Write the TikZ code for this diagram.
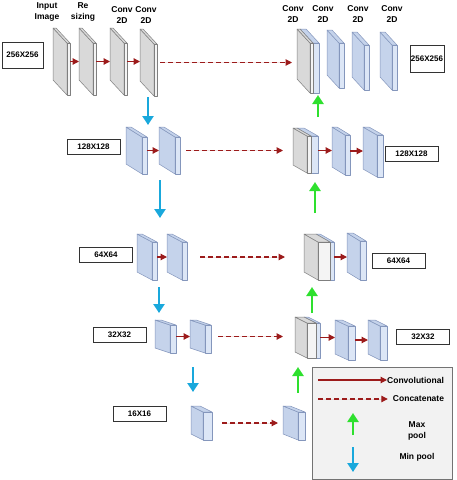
\documentclass[tikz,border=0pt]{standalone}
\usepackage{fontspec}
\setmainfont{Liberation Sans}
\usepackage{tikz}
\usetikzlibrary{arrows.meta,calc,positioning}
\definecolor{slabedge}{HTML}{7F7F7F}
\definecolor{grayside}{HTML}{D9D9D9}
\definecolor{grayfront}{HTML}{F4F4F4}
\definecolor{blueedge}{HTML}{8496BC}
\definecolor{blueside}{HTML}{C5D3EB}
\definecolor{bluefront}{HTML}{DCE6F6}
\definecolor{convred}{HTML}{9C1B1B}
\definecolor{poolblue}{HTML}{19A8DC}
\definecolor{poolgreen}{HTML}{2EE02E}

\begin{document}
\begin{tikzpicture}[
  x=1pt,y=-1pt,
  grayslab/.style={slabside/.style={draw=slabedge,fill=grayside,line width=0.5pt,line join=round},
    slabfront/.style={draw=slabedge,fill=grayfront,line width=0.5pt,line join=round}},
  blueslab/.style={slabside/.style={draw=blueedge,fill=blueside,line width=0.5pt,line join=round},
    slabfront/.style={draw=blueedge,fill=bluefront,line width=0.5pt,line join=round}},
  pics/slab/.style n args={4}{code={
    \path[slabside] (0,0) -- (#1,#2) -- (#1,#2+#3) -- (0,#3) -- cycle;
    \path[slabside] (0,0) -- (#4,0) -- (#1+#4,#2) -- (#1,#2) -- cycle;
    \path[slabfront] (#1,#2) rectangle (#1+#4,#2+#3);
    \coordinate (-w) at (0,{(#2+#3)/2});
    \coordinate (-e) at (#1+#4,{(#2+#3)/2});
  }},
  convarrow/.style={-{Triangle[length=6.5pt,width=6.5pt]},draw=convred,fill=convred,line width=1.2pt},
  catarrow/.style={-{Triangle[length=6.5pt,width=6.5pt]},draw=convred,fill=convred,line width=1.1pt,dash pattern=on 4.5pt off 3.5pt},
  minpool/.style={-{Triangle[length=9pt,width=11pt]},draw=poolblue,line width=2.8pt},
  maxpool/.style={-{Triangle[length=9pt,width=11pt]},draw=poolgreen,line width=2.8pt},
  sizebox/.style={draw=black!80,line width=0.7pt,fill=white,minimum width=53pt,minimum height=15pt,inner sep=1pt,font=\fontsize{8}{9}\selectfont\bfseries},
  lbl/.style={align=center,inner sep=0pt,font=\fontsize{8.5}{11}\selectfont\bfseries},
  legtext/.style={align=center,inner sep=0pt,font=\fontsize{8.5}{11}\selectfont\bfseries}
]
\useasboundingbox (0,0) rectangle (456,480);

% encoder
\pic[grayslab] (r1a) at (53,28) {slab={14}{15}{52}{3}};
\pic[grayslab] (r1b) at (79,28) {slab={14}{15}{52}{3}};
\pic[grayslab] (r1c) at (110,28) {slab={14}{15}{52}{3}};
\pic[grayslab] (r1d) at (140,29) {slab={14}{15}{52}{3}};
\pic[blueslab] (r2a) at (126,127) {slab={16}{10}{37}{5}};
\pic[blueslab] (r2b) at (159,127) {slab={16}{10}{37}{5}};
\pic[blueslab] (r3a) at (137,234) {slab={15}{8}{38}{5}};
\pic[blueslab] (r3b) at (167,234) {slab={15}{8}{38}{5}};
\pic[blueslab] (r4a) at (155,320) {slab={15}{5}{28}{6}};
\pic[blueslab] (r4b) at (190,320) {slab={15}{5}{28}{6}};
\pic[blueslab] (r5) at (191,406) {slab={12}{6}{28}{9}};

% decoder
\pic[blueslab] (c1b) at (300,29) {slab={13}{14}{50}{6}};
\pic[grayslab] (c1) at (297,29) {slab={13}{14}{50}{3}};
\pic[blueslab] (d1a) at (327,30) {slab={12}{13}{45}{5}};
\pic[blueslab] (d1b) at (352,32) {slab={12}{13}{45}{5}};
\pic[blueslab] (d1c) at (380,32) {slab={12}{13}{45}{5}};
\pic[blueslab] (c2b) at (297,128) {slab={14}{8}{37}{7}};
\pic[grayslab] (c2) at (293,128) {slab={14}{8}{37}{4}};
\pic[blueslab] (d2a) at (332,127) {slab={13}{8}{40}{5}};
\pic[blueslab] (d2b) at (363,127) {slab={14}{8}{42}{6}};
\pic[blueslab] (c3b) at (316,234) {slab={14}{8}{38}{4}};
\pic[grayslab] (c3) at (304,234) {slab={14}{8}{38}{12}};
\pic[blueslab] (d3a) at (347,233) {slab={13}{8}{39}{6}};
\pic[blueslab] (c4b) at (304,317) {slab={12}{6}{35}{4}};
\pic[grayslab] (c4) at (295,317) {slab={12}{6}{35}{9}};
\pic[blueslab] (d4a) at (335,320) {slab={13}{6}{34}{7}};
\pic[blueslab] (d4b) at (368,320) {slab={12}{6}{34}{7}};
\pic[blueslab] (d5) at (283,406) {slab={15}{6}{28}{7}};

% column titles
\node[lbl] (tin) at (47,12) {Input\\Image};
\node[lbl] (trs) at (83,12) {Re\\sizing};
\node[lbl] (tc1) at (122,15) {Conv\\2D};
\node[lbl] (tc2) at (146,15) {Conv\\2D};
\node[lbl] (tc3) at (293,14) {Conv\\2D};
\node[lbl] (tc4) at (323,14) {Conv\\2D};
\node[lbl] (tc5) at (358,14) {Conv\\2D};
\node[lbl] (tc6) at (392,14) {Conv\\2D};

% sizes
\node[sizebox,minimum width=41pt,minimum height=26pt] (s1) at (22.5,55) {256X256};
\node[sizebox] (s2) at (93.5,146.5) {128X128};
\node[sizebox] (s3) at (106,255) {64X64};
\node[sizebox] (s4) at (119.5,334.5) {32X32};
\node[sizebox] (s5) at (139.5,414) {16X16};
\node[sizebox,minimum width=34pt,minimum height=27pt] (t1) at (427,58.5) {256X256};
\node[sizebox] (t2) at (411.5,153.5) {128X128};
\node[sizebox] (t3) at (398.5,261) {64X64};
\node[sizebox] (t4) at (423,336.5) {32X32};

% convolutions
\foreach \a/\b in {r1a/r1b,r1b/r1c,r1c/r1d,r2a/r2b,r3a/r3b,r4a/r4b,c2b/d2a,d2a/d2b,c3b/d3a,c4b/d4a,d4a/d4b}
  \draw[convarrow] (\a-e) -- (\a-e -| \b-w);

% skip connections
\draw[catarrow,shorten <=3pt,shorten >=5pt] (r1d-e) -- (r1d-e -| c1-w);
\draw[catarrow,shorten <=6pt,shorten >=10pt] (r2b-e) -- (r2b-e -| c2-w);
\draw[catarrow,shorten <=13pt,shorten >=19pt] (r3b-e) -- (r3b-e -| c3-w);
\draw[catarrow,shorten <=7pt,shorten >=12pt] (r4b-e) -- (r4b-e -| c4-w);
\draw[catarrow,shorten <=10pt,shorten >=5pt] (r5-e) -- (r5-e -| d5-w);

% pooling
\foreach \px/\pa/\pb [count=\i] in {148/97/125,160/180/218,159/287/313,193/367/392}{
  \coordinate (dn\i a) at (\px,\pa);
  \coordinate (dn\i b) at (\px,\pb);
  \draw[minpool] (dn\i a) -- (dn\i b);
}
\foreach \px/\pa/\pb [count=\i] in {318/117/95,315/213/182,312/313/287,298/393/367}{
  \coordinate (up\i a) at (\px,\pa);
  \coordinate (up\i b) at (\px,\pb);
  \draw[maxpool] (up\i a) -- (up\i b);
}

% legend
\node[draw=black!55,fill=black!5,line width=0.6pt,minimum width=140pt,minimum height=112pt,inner sep=0pt] (legend) at (382,423) {};
\node[legtext,anchor=west] (lg1) at (387,380) {Convolutional};
\node[legtext] (lg2) at (418.5,399) {Concatenate};
\node[legtext] (lg3) at (417,430.5) {Max\\pool};
\node[legtext] (lg4) at (417,457) {Min pool};
\coordinate (lg1a) at (318,380);
\coordinate (lg2a) at (318,399);
\coordinate (lg3a) at (353,435);
\coordinate (lg3b) at (353,413);
\coordinate (lg4a) at (353,447);
\coordinate (lg4b) at (353,472);
\draw[convarrow] (lg1a) -- (lg1.west);
\draw[catarrow,shorten >=5pt] (lg2a) -- (lg2.west);
\draw[maxpool] (lg3a) -- (lg3b);
\draw[minpool] (lg4a) -- (lg4b);
\end{tikzpicture}
\end{document}
